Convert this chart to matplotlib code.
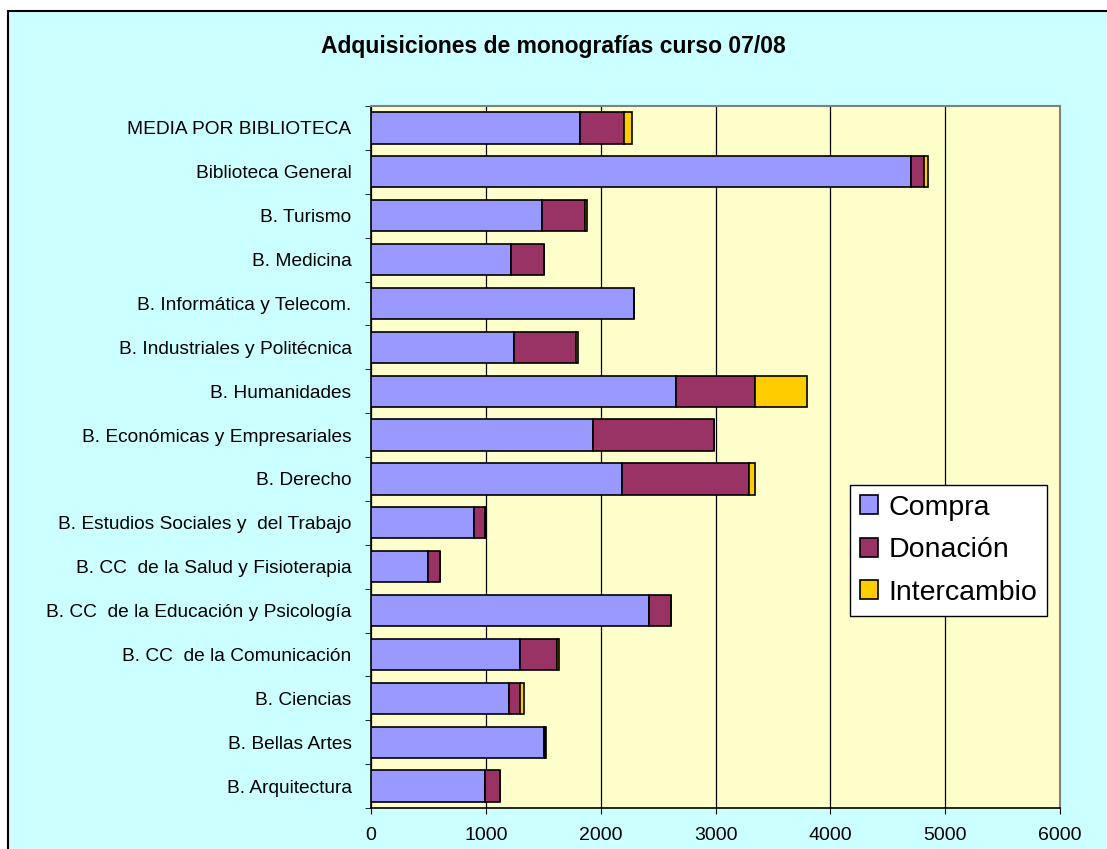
import matplotlib.pyplot as plt
from matplotlib.patches import Rectangle
import numpy as np

plt.rcParams['font.family'] = ['Liberation Sans', 'DejaVu Sans']

bibliotecas = [
    'MEDIA POR BIBLIOTECA',
    'Biblioteca General',
    'B. Turismo',
    'B. Medicina',
    'B. Informática y Telecom.',
    'B. Industriales y Politécnica',
    'B. Humanidades',
    'B. Económicas y Empresariales',
    'B. Derecho',
    'B. Estudios Sociales y  del Trabajo',
    'B. CC  de la Salud y Fisioterapia',
    'B. CC  de la Educación y Psicología',
    'B. CC  de la Comunicación',
    'B. Ciencias',
    'B. Bellas Artes',
    'B. Arquitectura',
]
compra = [1817, 4703, 1490, 1217, 2290, 1247, 2660, 1930, 2190, 893, 500, 2417, 1297, 1200, 1507, 990]
donacion = [386, 117, 373, 293, 0, 540, 683, 1060, 1100, 97, 97, 196, 323, 97, 12, 130]
intercambio = [67, 33, 15, 0, 0, 12, 457, 0, 57, 10, 0, 0, 15, 33, 6, 0]

series = [
    ('Compra', compra, '#9999FF'),
    ('Donación', donacion, '#993366'),
    ('Intercambio', intercambio, '#FFCC00'),
]

fig = plt.figure(figsize=(11.07, 8.49), dpi=100)
fig.patch.set_facecolor('white')
# fondo del gráfico con borde (recortado a la derecha y abajo)
fig.patches.append(Rectangle((8 / 1107, -0.1), 1.2, (849 - 11) / 849 + 0.1,
                             transform=fig.transFigure, facecolor='#CCFFFF',
                             edgecolor='black', linewidth=1.5, zorder=-1))

ax = fig.add_axes([371 / 1107, 41 / 849, 689 / 1107, 702 / 849])
ax.set_facecolor('#FFFFCC')

y = np.arange(len(bibliotecas))
left = np.zeros(len(bibliotecas))
for name, vals, color in series:
    vals = np.array(vals, dtype=float)
    ax.barh(y, vals, left=left, height=0.71, color=color, edgecolor='black',
            linewidth=1.2, label=name, zorder=3)
    left += vals

ax.set_ylim(len(bibliotecas) - 0.5, -0.5)
ax.set_xlim(0, 6000)
ax.set_xticks(np.arange(0, 6001, 1000))
ax.set_yticks(y)
ax.set_yticklabels(bibliotecas, fontsize=13.8)
ax.set_yticks(np.arange(-0.5, len(bibliotecas), 1), minor=True)
ax.tick_params(axis='y', which='major', length=0, pad=14)
ax.tick_params(axis='y', which='minor', length=4, direction='out')
ax.tick_params(axis='x', labelsize=14, length=4, direction='out', pad=10)

ax.grid(axis='x', color='black', linewidth=0.9, zorder=1)
ax.set_axisbelow(True)
for side in ['top', 'right']:
    ax.spines[side].set_color('#808080')
    ax.spines[side].set_linewidth(1.5)
for side in ['left', 'bottom']:
    ax.spines[side].set_color('black')
    ax.spines[side].set_linewidth(1.2)

fig.text(0.5, 1 - 47 / 849, 'Adquisiciones de monografías curso 07/08',
         ha='center', va='center', fontsize=16.5, fontweight='bold')

leg = ax.legend(loc='upper left', bbox_to_anchor=((850 - 371) / 689, (808 - 485) / 702),
                fontsize=20.5, frameon=True, fancybox=False, handlelength=0.65,
                handleheight=0.65, handletextpad=0.35, labelspacing=0.58,
                borderpad=0.35, borderaxespad=0)
leg.get_frame().set_edgecolor('black')
leg.get_frame().set_linewidth(1.0)
leg.get_frame().set_facecolor('white')
leg.get_frame().set_alpha(1)

fig.savefig('out.png', dpi=100, facecolor=fig.get_facecolor())
